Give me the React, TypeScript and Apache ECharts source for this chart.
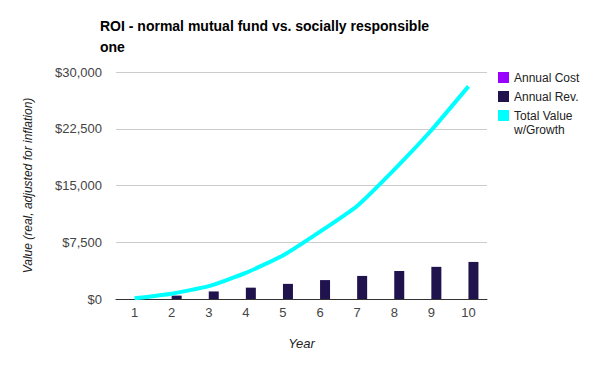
import React, { useEffect, useRef } from "react";
import * as echarts from "echarts";

const years = ["1", "2", "3", "4", "5", "6", "7", "8", "9", "10"];
const annualCost = [0, 0, 0, 0, 0, 0, 0, 0, 0, 0];
const annualRev = [0, 450, 1000, 1500, 2000, 2500, 3050, 3700, 4250, 4900];
const totalValue = [100, 700, 1700, 3450, 5750, 8900, 12300, 17100, 22300, 28100];
const yTicks = { min: 0, max: 30000, interval: 7500 };
const seriesNames = ["Annual Cost", "Annual Rev.", "Total Value w/Growth"];

const FONT = "'Liberation Sans', Arial, sans-serif";

export default function App() {
  const ref = useRef<HTMLDivElement>(null);
  useEffect(() => {
    if (!ref.current) return;
    const chart = echarts.init(ref.current, undefined, { renderer: "svg" });
    chart.setOption({
      animation: false,
      backgroundColor: "#ffffff",
      textStyle: { fontFamily: FONT },
      title: {
        text: "ROI - normal mutual fund vs. socially responsible\none",
        left: 95,
        top: 10,
        textStyle: { fontSize: 14, fontWeight: "bold", color: "#000", lineHeight: 21, fontFamily: FONT },
      },
      legend: {
        orient: "vertical",
        left: 498,
        top: 71,
        padding: 0,
        itemWidth: 11,
        itemHeight: 11,
        itemGap: 6,
        icon: "rect",
        textStyle: { fontSize: 12, color: "#222", lineHeight: 13, fontFamily: FONT },
        formatter: (name: string) => (name === seriesNames[2] ? "Total Value" : name),
        data: seriesNames,
      },
      graphic: [
        {
          type: "text",
          left: 514,
          top: 124,
          style: { text: "w/Growth", fontSize: 12, fill: "#222", fontFamily: FONT },
        },
      ],
      grid: { left: 116, right: 113, top: 72, bottom: 72, containLabel: false },
      xAxis: {
        type: "category",
        data: years,
        boundaryGap: true,
        name: "Year",
        nameLocation: "middle",
        nameGap: 38,
        nameTextStyle: { fontStyle: "italic", fontSize: 13, color: "#222", fontFamily: FONT },
        axisLine: { show: true, lineStyle: { color: "#333", width: 1 } },
        axisTick: { show: false },
        axisLabel: { color: "#444", fontSize: 13, margin: 7, fontFamily: FONT },
      },
      yAxis: {
        type: "value",
        min: yTicks.min,
        max: yTicks.max,
        interval: yTicks.interval,
        name: "Value (real, adjusted for inflation)",
        nameLocation: "middle",
        nameGap: 82,
        nameTextStyle: { fontStyle: "italic", fontSize: 12, color: "#222", fontFamily: FONT },
        axisLine: { show: false },
        axisTick: { show: false },
        splitLine: { lineStyle: { color: "#cccccc", width: 1 } },
        axisLabel: {
          color: "#444",
          fontSize: 13,
          margin: 14,
          fontFamily: FONT,
          formatter: (v: number) => "$" + v.toLocaleString("en-US"),
        },
      },
      series: [
        {
          name: seriesNames[0],
          type: "bar",
          data: annualCost,
          barWidth: 10,
          barGap: "0%",
          itemStyle: { color: "#9900ff" },
        },
        {
          name: seriesNames[1],
          type: "bar",
          data: annualRev,
          barWidth: 10,
          barGap: "0%",
          itemStyle: { color: "#20124d" },
        },
        {
          name: seriesNames[2],
          type: "line",
          data: totalValue,
          showSymbol: false,
          symbol: "none",
          smooth: 0.15,
          lineStyle: { color: "#00ffff", width: 4 },
          itemStyle: { color: "#00ffff" },
        },
      ],
    });
    return () => chart.dispose();
  }, []);
  return <div ref={ref} style={{ width: 600, height: 371, position: "absolute", left: 0, top: 0 }} />;
}
